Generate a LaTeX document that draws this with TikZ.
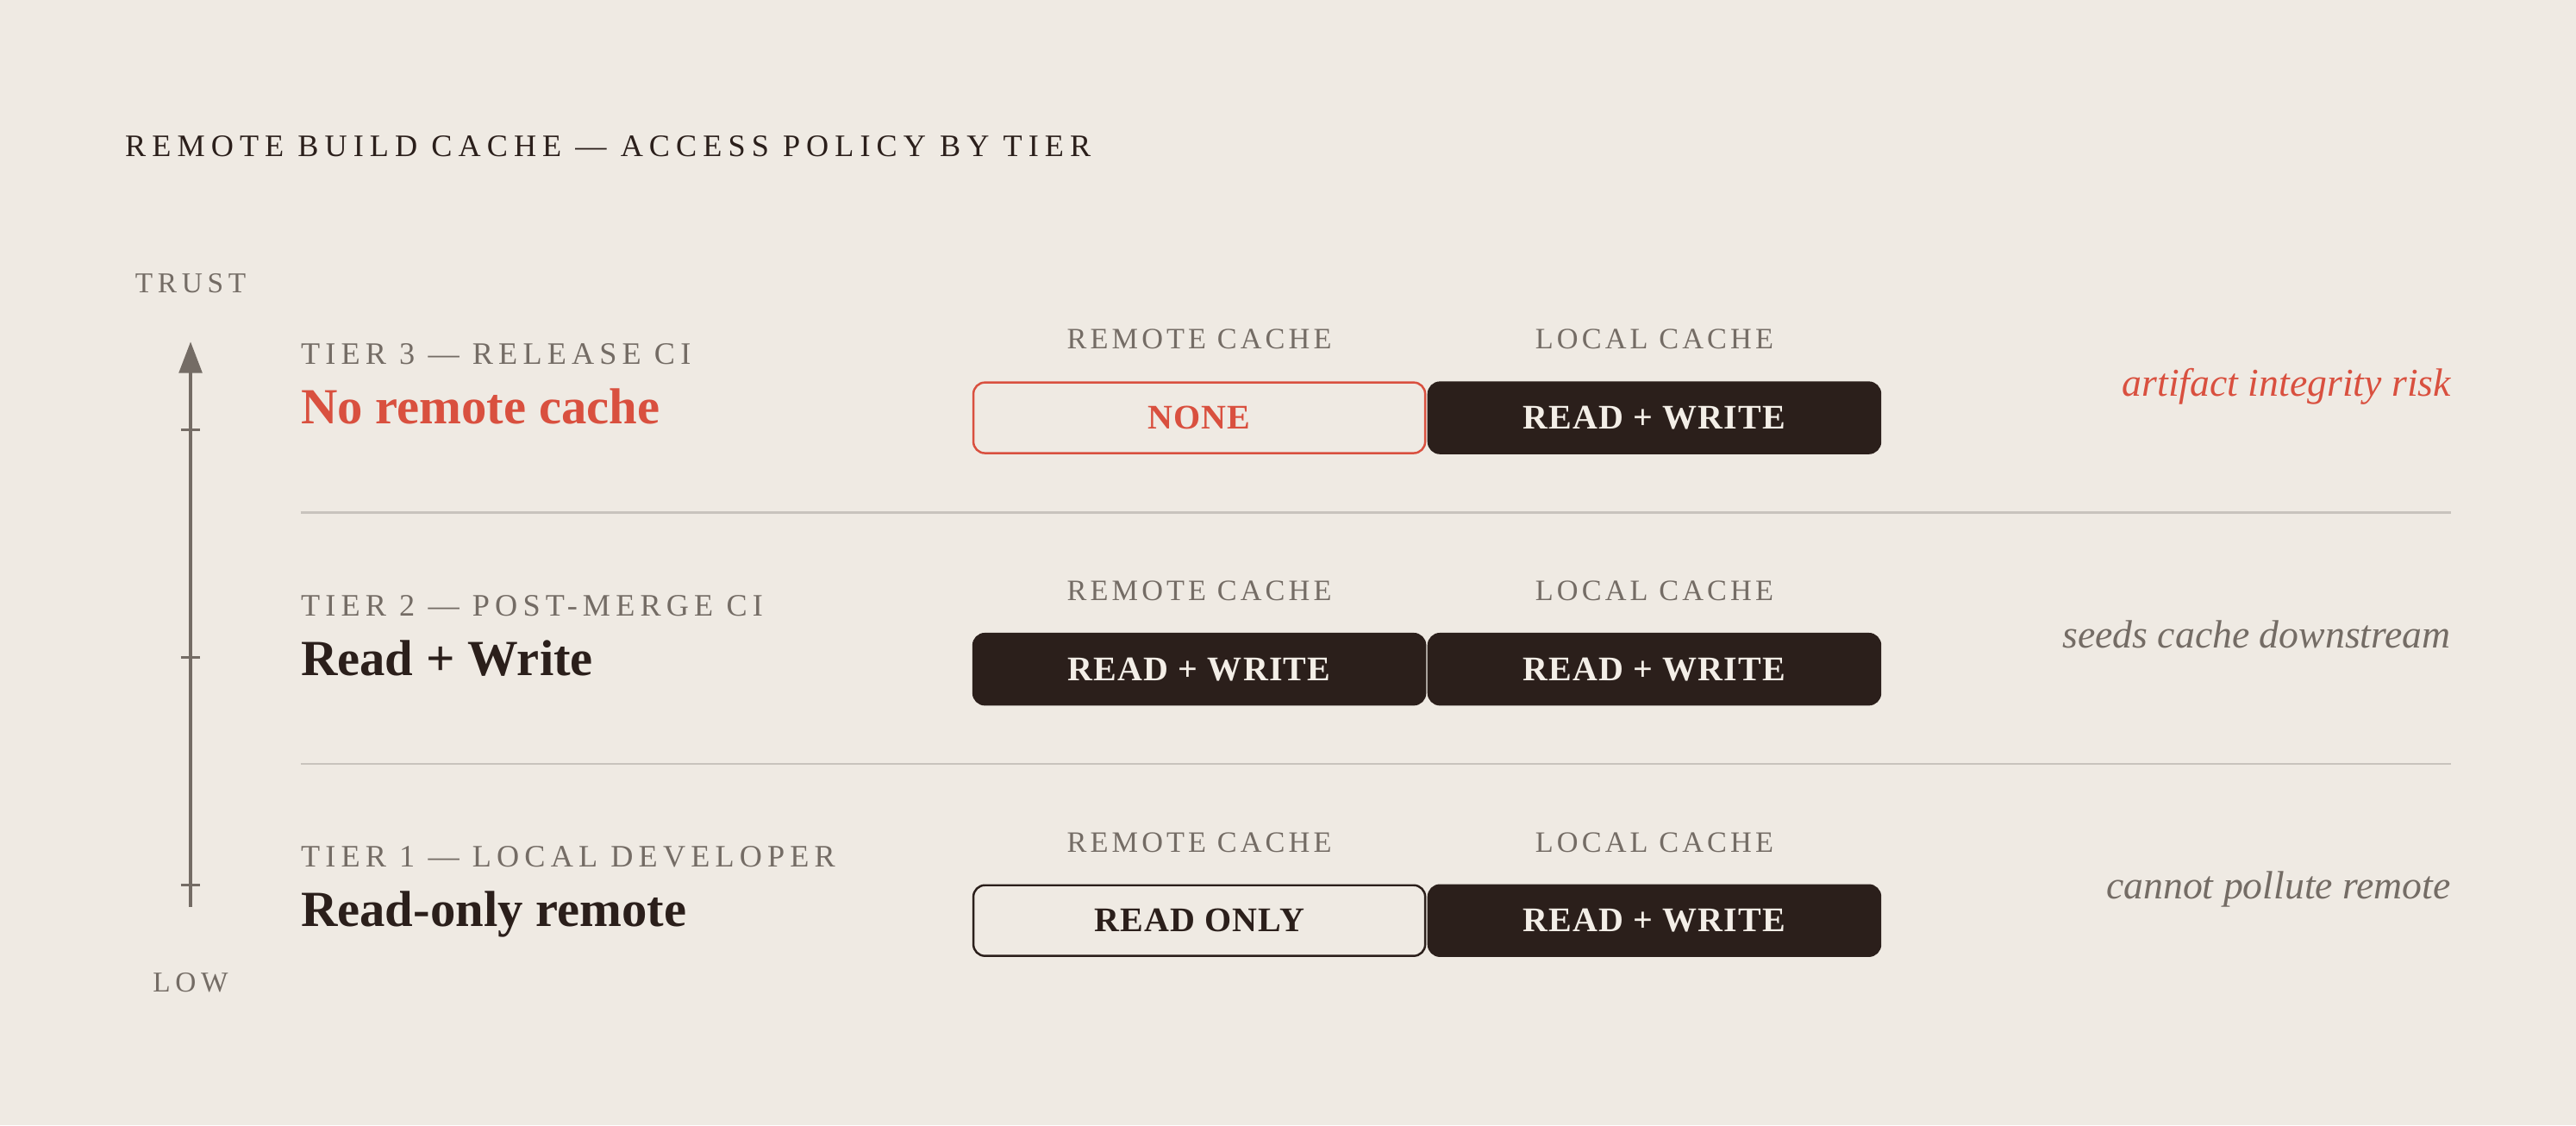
\documentclass[tikz,border=0pt]{standalone}
\usepackage{fontspec}
\setmainfont{Liberation Serif}
\newfontfamily\trkA[LetterSpace=19.5]{Liberation Serif}
\newfontfamily\trkB[LetterSpace=17]{Liberation Serif}
\newfontfamily\trkC[LetterSpace=12]{Liberation Serif}
\newfontfamily\trkD[LetterSpace=3]{Liberation Serif}
\newfontfamily\trkE[LetterSpace=17]{Liberation Serif}
\usetikzlibrary{arrows.meta}
\definecolor{paper}{RGB}{239,234,227}
\definecolor{ink}{RGB}{43,31,27}
\definecolor{muted}{RGB}{116,108,101}
\definecolor{alert}{RGB}{217,80,63}
\definecolor{rulec}{RGB}{200,195,189}
\definecolor{celltext}{RGB}{243,238,231}
\begin{document}
\begin{tikzpicture}[x=1pt,y=-1pt,
  titlelbl/.style={font=\trkA\fontsize{19}{19}\selectfont, text=ink, anchor=base west, inner sep=0},
  axislbl/.style={font=\trkE\fontsize{17.5}{17.5}\selectfont, text=muted, anchor=base, inner sep=0},
  tierlbl/.style={font=\trkB\fontsize{19}{19}\selectfont, text=muted, anchor=base west, inner sep=0},
  mainlbl/.style={font=\bfseries\fontsize{30.8}{30.8}\selectfont, text=ink, anchor=base west, inner sep=0},
  colhead/.style={font=\trkC\fontsize{18}{18}\selectfont, text=muted, anchor=base, inner sep=0},
  cell/.style={minimum width=275pt, minimum height=43pt, rounded corners=7pt, line width=1.3pt,
    font=\trkD\bfseries\fontsize{21}{21}\selectfont, inner sep=0, anchor=center},
  darkcell/.style={cell, fill=ink, draw=ink, text=celltext},
  notelbl/.style={font=\itshape\fontsize{24}{24}\selectfont, text=muted, anchor=base east, inner sep=0},
  sepline/.style={draw=rulec, line width=1.4pt},
  axisline/.style={draw=muted, line width=1.8pt},
  tick/.style={draw=muted, line width=1.6pt}
]
\fill[paper] (0,0) rectangle (1568,685);
\useasboundingbox (0,0) rectangle (1568,685);

% title
\node[titlelbl] (title) at (76,95) {REMOTE BUILD CACHE — ACCESS POLICY BY TIER};

% trust axis
\node[axislbl] (trust) at (116,178) {TRUST};
\node[axislbl] (low) at (116,603.5) {LOW};
\coordinate (axbot) at (116,552);
\coordinate (axtop) at (116,208);
\draw[axisline, -{Triangle[length=19pt,width=14pt]}] (axbot) -- (axtop);
\draw[tick] (110,261.4) -- (122,261.4);
\draw[tick] (110,400) -- (122,400);
\draw[tick] (110,538.8) -- (122,538.8);

% tier 3
\node[tierlbl] (t3lbl) at (183,221.8) {TIER 3 — RELEASE CI};
\node[mainlbl, text=alert] (t3main) at (183,258) {No remote cache};
\node[colhead] (t3rh) at (730,212.5) {REMOTE CACHE};
\node[colhead] (t3lh) at (1007,212.5) {LOCAL CACHE};
\node[cell, draw=alert, fill=paper, text=alert] (t3r) at (730,254.3) {NONE};
\node[darkcell] (t3l) at (1007,254.3) {READ + WRITE};
\node[notelbl, text=alert] (t3n) at (1492,241.1) {artifact integrity risk};

\coordinate (s1a) at (183,312);
\coordinate (s1b) at (1492,312);
\draw[sepline] (s1a) -- (s1b);

% tier 2
\node[tierlbl] (t2lbl) at (183,374.8) {TIER 2 — POST-MERGE CI};
\node[mainlbl] (t2main) at (183,411) {Read + Write};
\node[colhead] (t2rh) at (730,365.5) {REMOTE CACHE};
\node[colhead] (t2lh) at (1007,365.5) {LOCAL CACHE};
\node[darkcell] (t2r) at (730,407.3) {READ + WRITE};
\node[darkcell] (t2l) at (1007,407.3) {READ + WRITE};
\node[notelbl] (t2n) at (1492,394.1) {seeds cache downstream};

\coordinate (s2a) at (183,465);
\coordinate (s2b) at (1492,465);
\draw[sepline] (s2a) -- (s2b);

% tier 1
\node[tierlbl] (t1lbl) at (183,527.8) {TIER 1 — LOCAL DEVELOPER};
\node[mainlbl] (t1main) at (183,564) {Read-only remote};
\node[colhead] (t1rh) at (730,518.5) {REMOTE CACHE};
\node[colhead] (t1lh) at (1007,518.5) {LOCAL CACHE};
\node[cell, draw=ink, fill=paper, text=ink] (t1r) at (730,560.3) {READ ONLY};
\node[darkcell] (t1l) at (1007,560.3) {READ + WRITE};
\node[notelbl] (t1n) at (1492,547.1) {cannot pollute remote};
\end{tikzpicture}
\end{document}
